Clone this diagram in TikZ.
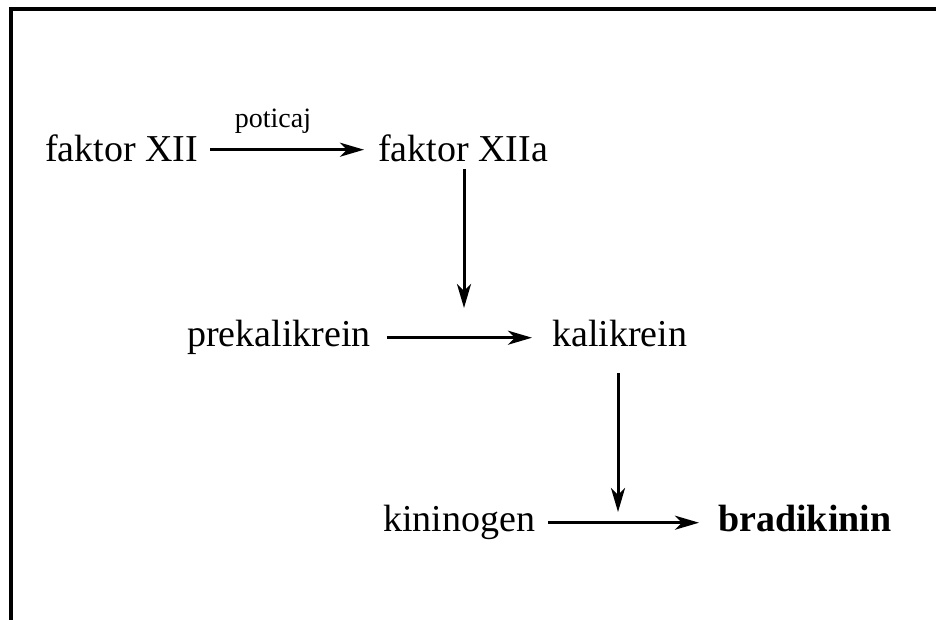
\documentclass[tikz,border=0pt]{standalone}
\usepackage{fontspec}
\setmainfont{Liberation Serif}
\usetikzlibrary{arrows.meta}
\begin{document}
\begin{tikzpicture}[x=1pt,y=-1pt,
  lbl/.style={font=\fontsize{38}{42}\selectfont, inner sep=0pt, anchor=base west},
  small/.style={font=\fontsize{28}{30}\selectfont, inner sep=0pt, anchor=base},
  arr/.style={line width=3pt, -{Stealth[length=24pt,width=14pt,inset=7pt]}},
  frame/.style={line width=4pt, line join=miter}
]
\useasboundingbox (0,0) rectangle (936,620);
\draw[frame] (11,620) -- (11,9) -- (936,9);

\node[lbl] (fXII) at (45,162) {faktor XII};
\node[lbl] (fXIIa) at (378,162) {faktor XIIa};
\node[small] (pot) at (273,128) {poticaj};
\node[lbl] (pk) at (187,346) {prekalikrein};
\node[lbl] (k) at (552,346) {kalikrein};
\node[lbl] (kg) at (383,531) {kininogen};
\node[lbl,font=\fontsize{38}{42}\selectfont\bfseries] (bk) at (718,531) {bradikinin};

\coordinate (t1) at (464,308);
\coordinate (t2) at (618,512);

\draw[arr] ([xshift=12pt,yshift=10pt]fXII.mid east) -- ([xshift=-14pt,yshift=10pt]fXIIa.mid west);
\draw[arr] ([xshift=16pt,yshift=6pt]pk.mid east) -- ([xshift=-20pt,yshift=6pt]k.mid west);
\draw[arr] ([xshift=13pt,yshift=6pt]kg.mid east) -- ([xshift=-19pt,yshift=6pt]bk.mid west);
\draw[arr] (t1 |- 0,169) -- (t1);
\draw[arr] (t2 |- 0,373) -- (t2);
\end{tikzpicture}
\end{document}
